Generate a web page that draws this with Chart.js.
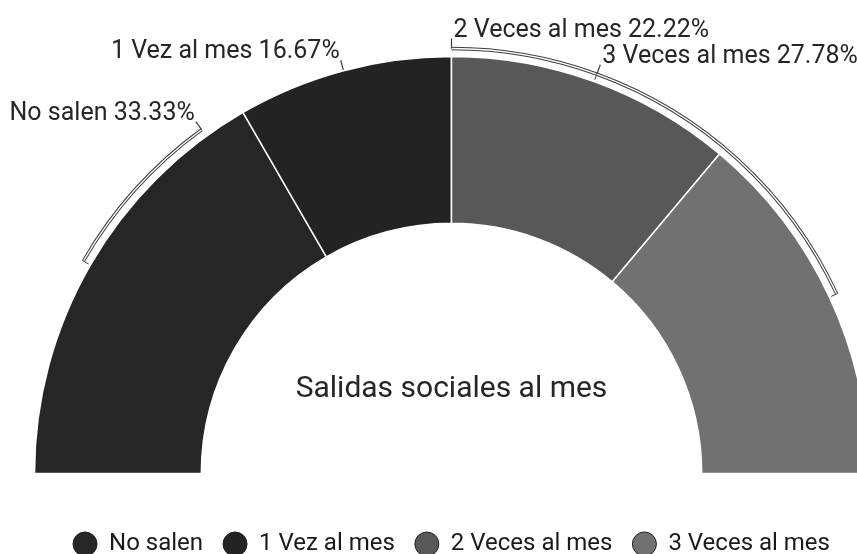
<!DOCTYPE html>
<html><head><meta charset="utf-8">
<script src="https://cdn.jsdelivr.net/npm/chart.js@4/dist/chart.umd.min.js"></script>
<style>html,body{margin:0;padding:0;background:#fff;overflow:hidden}#wrap{width:857px;height:566px;position:relative}</style>
</head><body><div id="wrap"><canvas id="c"></canvas></div>
<script>
// ---- data ----
const categories = ['No salen', '1 Vez al mes', '2 Veces al mes', '3 Veces al mes'];
const percentages = [33.33, 16.67, 22.22, 27.78];
const percentLabels = ['33.33%', '16.67%', '22.22%', '27.78%'];
const centerTitle = 'Salidas sociales al mes';

// ---- style ----
const sliceColors = ['#262626', '#232323', '#585858', '#717171'];
const textColor = '#262626';
const FONT = 'Roboto, "Noto Sans", sans-serif';
// guide brackets: [sliceIndex, fraction of slice] ends; anchor = where the label attaches
const labelGuides = [
  { from: [0, 0.5], to: [0, 0.9], anchor: 'to' },
  { from: [1, 0.5], to: null, anchor: 'from' },
  { from: [2, 0.0], to: [2, 0.5], anchor: 'from' },
  { from: [2, 0.5], to: [3, 0.5], anchor: 'from' }
];

const guidePlugin = {
  id: 'guides',
  afterDatasetsDraw(chart) {
    const ctx = chart.ctx;
    const arcs = chart.getDatasetMeta(0).data;
    if (!arcs.length) return;
    const cx = arcs[0].x, cy = arcs[0].y, R = arcs[0].outerRadius;
    const ang = (p) => { const a = arcs[p[0]]; return a.startAngle + p[1] * (a.endAngle - a.startAngle); };
    const pt = (a, r) => [cx + r * Math.cos(a), cy + r * Math.sin(a)];
    const rb = R + 8;
    ctx.save();
    labelGuides.forEach((g, i) => {
      const a0 = ang(g.from);
      let anchorA, anchorR;
      if (g.to) {
        const a1 = ang(g.to);
        ctx.beginPath(); ctx.arc(cx, cy, rb, a0, a1);
        ctx.strokeStyle = '#3c3c3c'; ctx.lineWidth = 3.4; ctx.stroke();
        ctx.strokeStyle = '#ffffff'; ctx.lineWidth = 1.4; ctx.stroke();
        const endA = g.anchor === 'to' ? a0 : a1;
        const e1 = pt(endA, rb + 1), e2 = pt(endA, R + 2);
        ctx.beginPath(); ctx.moveTo(e1[0], e1[1]); ctx.lineTo(e2[0], e2[1]);
        ctx.strokeStyle = '#3c3c3c'; ctx.lineWidth = 1; ctx.stroke();
        anchorA = g.anchor === 'to' ? a1 : a0; anchorR = rb;
      } else {
        anchorA = a0; anchorR = R + 1;
      }
      const p = pt(anchorA, anchorR);
      const q = pt(anchorA, anchorR + 10);
      ctx.beginPath(); ctx.moveTo(p[0], p[1]); ctx.lineTo(q[0], q[1]);
      ctx.strokeStyle = '#3c3c3c'; ctx.lineWidth = 1.2; ctx.stroke();
      const left = Math.cos(anchorA) < -0.02;
      ctx.font = '25px ' + FONT;
      ctx.fillStyle = textColor;
      ctx.textBaseline = 'middle';
      ctx.textAlign = left ? 'right' : 'left';
      ctx.fillText(categories[i] + ' ' + percentLabels[i], q[0] + (left ? -1 : 2), q[1] - 8);
    });
    ctx.font = '30px ' + FONT;
    ctx.fillStyle = textColor;
    ctx.textAlign = 'center';
    ctx.textBaseline = 'middle';
    ctx.fillText(centerTitle, cx, cy - 84);
    ctx.restore();
  }
};

new Chart(document.getElementById('c'), {
  type: 'doughnut',
  data: {
    labels: categories,
    datasets: [{
      data: percentages,
      backgroundColor: sliceColors,
      borderColor: '#ffffff',
      borderWidth: 1.5,
      hoverOffset: 0,
      clip: false
    }]
  },
  options: {
    responsive: true,
    maintainAspectRatio: false,
    animation: false,
    rotation: -90,
    circumference: 180,
    cutout: '60%',
    radius: 417,
    layout: { padding: { left: 46, top: 18, right: 0, bottom: 0 } },
    plugins: {
      tooltip: { enabled: false },
      legend: {
        position: 'bottom',
        labels: {
          usePointStyle: true,
          pointStyle: 'circle',
          boxWidth: 24,
          boxHeight: 17,
          padding: 20,
          color: '#1a1a1a',
          font: { family: FONT, size: 24 },
          generateLabels(chart) {
            const items = Chart.overrides.doughnut.plugins.legend.labels.generateLabels(chart);
            return items.map(it => Object.assign(it, { strokeStyle: '#222', lineWidth: 1 }));
          }
        }
      }
    }
  },
  plugins: [guidePlugin]
});
</script>
</body></html>
